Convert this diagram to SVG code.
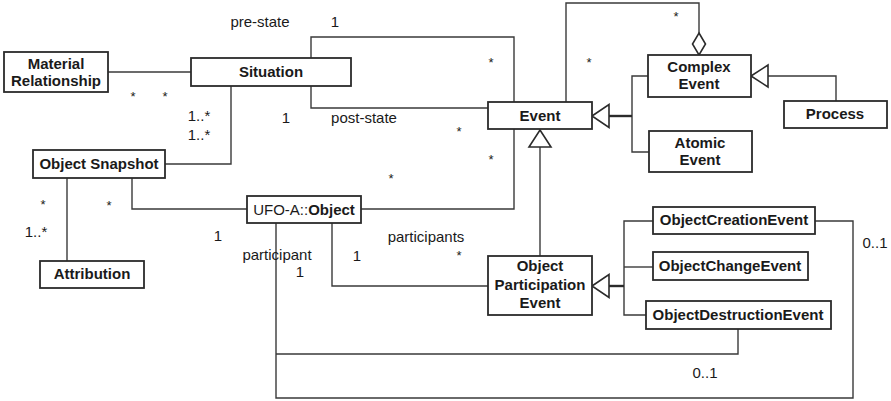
<svg xmlns="http://www.w3.org/2000/svg" width="891" height="401" viewBox="0 0 891 401">
  <style>
    .box { fill: #fff; stroke: #2b2b2b; stroke-width: 1.8; }
    .ln { fill: none; stroke: #3a3a3a; stroke-width: 1.4; }
    .thick { fill: none; stroke: #2b2b2b; stroke-width: 2.4; }
    .tri { fill: #fff; stroke: #2b2b2b; stroke-width: 1.6; }
    .name { font-family: "Liberation Sans", Arial, sans-serif; font-size: 15px; font-weight: bold; fill: #1a1a1a; text-anchor: middle; }
    .lbl { font-family: "Liberation Sans", Arial, sans-serif; font-size: 15px; fill: #1a1a1a; text-anchor: middle; }
    .star { font-family: "Liberation Sans", Arial, sans-serif; font-size: 13px; fill: #1a1a1a; text-anchor: middle; }
  </style>
  <rect width="891" height="401" fill="#fff"/>

  <!-- connectors -->
  <g id="connectors">
    <!-- Material Relationship – Situation -->
    <path class="ln" d="M108,72 H191"/>
    <!-- Situation – Object Snapshot -->
    <path class="ln" d="M231,86 V164 H165"/>
    <!-- pre-state -->
    <path class="ln" d="M311,58 V37 H514 V102"/>
    <!-- post-state -->
    <path class="ln" d="M311,86 V108 H488"/>
    <!-- Object Snapshot – Object -->
    <path class="ln" d="M132,178 V209 H247"/>
    <!-- Object Snapshot – Attribution -->
    <path class="ln" d="M67,178 V261"/>
    <!-- Object – Event -->
    <path class="ln" d="M361,209 H514 V129"/>
    <!-- Event – Complex Event (aggregation) -->
    <path class="ln" d="M566,102 V3 H699 V33"/>
    <polygon class="tri" points="699,33 705.5,44 699,55 692.5,44"/>
    <!-- Complex / Atomic generalisation to Event -->
    <path class="ln" d="M648,76 H632 V152 H649"/>
    <path class="thick" d="M609,116 H632"/>
    <polygon class="tri" points="592,116 609,104.5 609,127.5"/>
    <!-- Process generalisation to Complex Event -->
    <path class="ln" d="M836,101 V76 H768"/>
    <polygon class="tri" points="751,76 768,65 768,87"/>
    <!-- Object Participation Event generalisation to Event -->
    <path class="ln" d="M540,147 V256"/>
    <polygon class="tri" points="540,130 551,147 529,147"/>
    <!-- Object – Object Participation Event (participants) -->
    <path class="ln" d="M332,223 V286 H488"/>
    <!-- creation / change / destruction generalisation -->
    <path class="ln" d="M653,221 H624 V315 H646"/>
    <path class="ln" d="M624,267 H653"/>
    <path class="thick" d="M609,286 H624"/>
    <polygon class="tri" points="592,286 609,274.5 609,297.5"/>
    <!-- Object – ObjectCreationEvent -->
    <path class="ln" d="M276,223 V398 H853 V221 H815"/>
    <!-- Object – ObjectDestructionEvent -->
    <path class="ln" d="M276,354 H738 V329"/>
  </g>

  <!-- nodes -->
  <g id="material-relationship">
    <rect class="box" x="4" y="52" width="104" height="40"/>
    <text class="name" x="56" y="69">Material</text>
    <text class="name" x="56" y="86">Relationship</text>
  </g>
  <g id="situation">
    <rect class="box" x="191" y="58" width="160" height="28"/>
    <text class="name" x="271" y="77">Situation</text>
  </g>
  <g id="object-snapshot">
    <rect class="box" x="33" y="150" width="132" height="28"/>
    <text class="name" x="99" y="169">Object Snapshot</text>
  </g>
  <g id="attribution">
    <rect class="box" x="40" y="261" width="104" height="27"/>
    <text class="name" x="92" y="279">Attribution</text>
  </g>
  <g id="object">
    <rect class="box" x="247" y="196" width="114" height="27"/>
    <text class="lbl" x="304" y="215">UFO-A::<tspan font-weight="bold">Object</tspan></text>
  </g>
  <g id="event">
    <rect class="box" x="488" y="102" width="104" height="27"/>
    <text class="name" x="540" y="121">Event</text>
  </g>
  <g id="complex-event">
    <rect class="box" x="648" y="55" width="103" height="42"/>
    <text class="name" x="699" y="72">Complex</text>
    <text class="name" x="699" y="89">Event</text>
  </g>
  <g id="atomic-event">
    <rect class="box" x="649" y="131" width="103" height="41"/>
    <text class="name" x="700" y="148">Atomic</text>
    <text class="name" x="700" y="165">Event</text>
  </g>
  <g id="process">
    <rect class="box" x="784" y="101" width="103" height="27"/>
    <text class="name" x="835" y="119">Process</text>
  </g>
  <g id="object-participation-event">
    <rect class="box" x="488" y="256" width="104" height="59"/>
    <text class="name" x="540" y="271">Object</text>
    <text class="name" x="540" y="290">Participation</text>
    <text class="name" x="540" y="308">Event</text>
  </g>
  <g id="object-creation-event">
    <rect class="box" x="653" y="207" width="162" height="27"/>
    <text class="name" x="734" y="225">ObjectCreationEvent</text>
  </g>
  <g id="object-change-event">
    <rect class="box" x="653" y="252" width="155" height="28"/>
    <text class="name" x="730" y="271">ObjectChangeEvent</text>
  </g>
  <g id="object-destruction-event">
    <rect class="box" x="646" y="301" width="185" height="28"/>
    <text class="name" x="738" y="320">ObjectDestructionEvent</text>
  </g>

  <!-- role names and multiplicities -->
  <g id="labels">
    <text class="lbl" x="260" y="27">pre-state</text>
    <text class="lbl" x="335" y="27">1</text>
    <text class="lbl" x="286" y="123">1</text>
    <text class="lbl" x="364" y="123">post-state</text>
    <text class="star" x="133" y="101">*</text>
    <text class="star" x="165" y="101">*</text>
    <text class="lbl" x="199" y="121">1..*</text>
    <text class="lbl" x="199" y="140">1..*</text>
    <text class="star" x="491" y="67">*</text>
    <text class="star" x="589" y="67">*</text>
    <text class="star" x="676" y="21">*</text>
    <text class="star" x="459" y="136">*</text>
    <text class="star" x="491" y="164">*</text>
    <text class="star" x="391" y="183">*</text>
    <text class="star" x="43" y="209">*</text>
    <text class="star" x="109" y="210">*</text>
    <text class="lbl" x="36" y="237">1..*</text>
    <text class="lbl" x="218" y="241">1</text>
    <text class="lbl" x="277" y="260">participant</text>
    <text class="lbl" x="300" y="277">1</text>
    <text class="lbl" x="426" y="242">participants</text>
    <text class="lbl" x="357" y="261">1</text>
    <text class="star" x="459" y="260">*</text>
    <text class="lbl" x="875" y="248">0..1</text>
    <text class="lbl" x="705" y="378">0..1</text>
  </g>
</svg>
